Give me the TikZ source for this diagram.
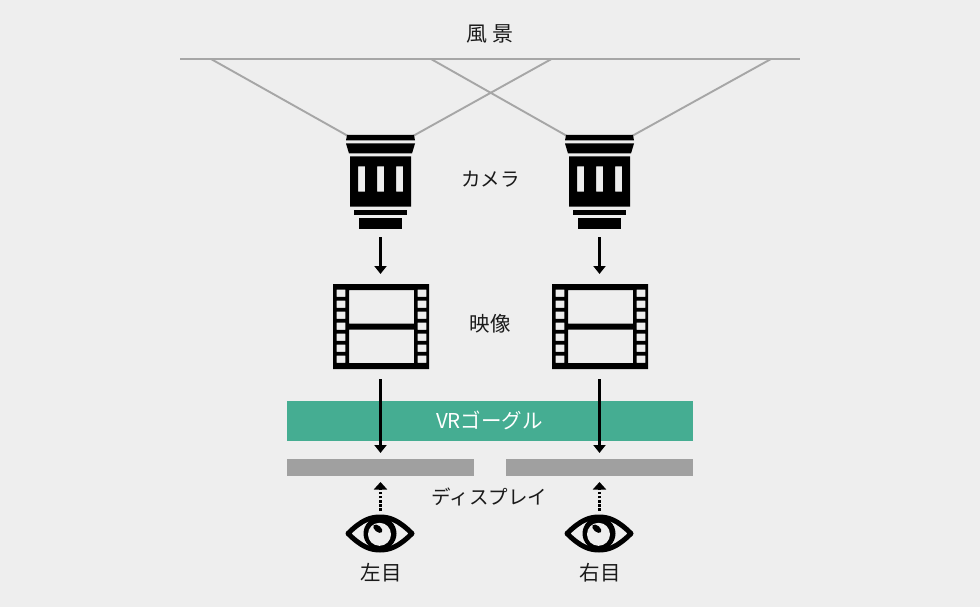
\documentclass[tikz,border=0pt]{standalone}
\usepackage{fontspec}
\setmainfont{Noto Sans CJK JP}
\usetikzlibrary{arrows.meta}
\definecolor{bgc}{HTML}{EEEEEE}
\definecolor{linec}{HTML}{A6A6A6}
\definecolor{barc}{HTML}{A0A0A0}
\definecolor{vrc}{HTML}{45AD92}
\definecolor{txtc}{HTML}{1A1A1A}
\tikzset{
 x=1pt,y=-1pt,
 lbl/.style={font=\fontsize{20.5}{21}\selectfont,text=txtc,inner sep=0pt},
 sight/.style={draw=linec,line width=1.9pt},
 flow/.style={draw=black,line width=2.6pt,-{Triangle[length=8pt,width=12pt]}},
 look/.style={draw=black,line width=2.8pt,dash pattern=on 2.6pt off 1.6pt,-{Triangle[length=7.5pt,width=13pt]}},
 panel/.style={fill=barc,draw=none,minimum height=17pt,inner sep=0pt},
 pics/camera/.style={code={
   \fill[black] (-33.5,-45.5) -- (33.5,-45.5) -- (34.5,-40) -- (-34.5,-40) -- cycle;
   \fill[black] (-34.5,-37) -- (34.5,-37) -- (31.5,-27) -- (-31.5,-27) -- cycle;
   \fill[black,even odd rule] (-30.5,-24) rectangle (30.5,26)
      (-22.5,-14) rectangle (-15.5,11) (-3.5,-14) rectangle (3.5,11) (15.5,-14) rectangle (22.5,11);
   \fill[black] (-26.5,29) rectangle (26.5,34.5);
   \fill[black] (-21.5,37) rectangle (21.5,48);
 }},
 pics/film/.style={code={
   \fill[black,even odd rule] (-47.5,-42.5) rectangle (48.5,42.5)
     (-31.5,-36.5) rectangle (33.5,-3) (-31.5,3) rectangle (33.5,36.5)
     \foreach \k in {0,...,6}{ (-44,{-36.9+11*\k}) rectangle (-35.2,{-29.6+11*\k})
        (37.2,{-36.9+11*\k}) rectangle (45.8,{-29.6+11*\k}) };
 }},
 pics/eye/.style={code={
   \draw[black,line width=5pt,line join=round] (-32,0) .. controls (-18,-14) and (-9,-16.5) .. (0,-16.5) .. controls (9,-16.5) and (18,-14) .. (32,0) .. controls (18,14) and (9,16.5) .. (0,16.5) .. controls (-9,16.5) and (-18,14) .. cycle;
   \fill[black] (0,0) circle (16.5);
   \fill[bgc] (-0.5,0.8) circle (11.5);
   \fill[black,rotate around={-40:(-2.2,-4.8)}] (-2.2,-4.8) ellipse (5.4 and 3.1);
 }},
}
\begin{document}
\begin{tikzpicture}
\fill[bgc] (0,0) rectangle (980,607);
\useasboundingbox (0,0) rectangle (980,607);
% scene
\node[lbl,font=\fontsize{21}{22}\selectfont] (scene) at (490,34) {風\hspace{5pt}景};
\coordinate (sl) at (180,59); \coordinate (sr) at (800,59);
\draw[sight] (sl) -- (sr);
\coordinate (a1) at (211,59); \coordinate (a2) at (551.5,59);
\coordinate (b1) at (431,59); \coordinate (b2) at (771,59);
\coordinate (c1) at (348,136); \coordinate (c2) at (413,136);
\coordinate (d1) at (567,136); \coordinate (d2) at (632,136);
\draw[sight] (a1) -- (c1); \draw[sight] (a2) -- (c2);
\draw[sight] (b1) -- (d1); \draw[sight] (b2) -- (d2);
% cameras
\pic at (380.5,180.5) {camera};
\pic at (599.5,180.5) {camera};
\node[lbl,font=\fontsize{19.5}{20}\selectfont] (cam) at (490.5,179) {カメラ};
\coordinate (cl) at (380.5,237); \coordinate (cr) at (599.5,237);
\coordinate (fl) at (380.5,274); \coordinate (fr) at (599.5,274);
\draw[flow] (cl) -- (fl);
\draw[flow] (cr) -- (fr);
% film
\pic at (380.5,326.5) {film};
\pic at (599.5,326.5) {film};
\node[lbl] (img) at (490,324) {映像};
% goggles
\node[fill=vrc,minimum width=406pt,minimum height=40pt,inner sep=0pt,font=\fontsize{20.5}{22}\selectfont,text=white] (vr) at (489.5,420.5) {VRゴーグル};
\node[panel,minimum width=187pt] (pl) at (380.5,467.5) {};
\node[panel,minimum width=187pt] (pr) at (599.5,467.5) {};
\coordinate (gl) at (380.5,379); \coordinate (gr) at (599.5,379);
\coordinate (hl) at (380.5,453); \coordinate (hr) at (599.5,453);
\draw[flow] (gl) -- (hl);
\draw[flow] (gr) -- (hr);
\node[lbl,font=\fontsize{19.5}{20}\selectfont] (disp) at (489.5,497) {ディスプレイ};
% eyes
\coordinate (el) at (380.5,511); \coordinate (er) at (599.5,511);
\coordinate (tl) at (380.5,482); \coordinate (tr) at (599.5,482);
\draw[look] (el) -- (tl);
\draw[look] (er) -- (tr);
\pic at (380,533.5) {eye};
\pic at (599,533.5) {eye};
\node[lbl] (le) at (381,573) {左目};
\node[lbl] (re) at (600,573) {右目};
\end{tikzpicture}
\end{document}
